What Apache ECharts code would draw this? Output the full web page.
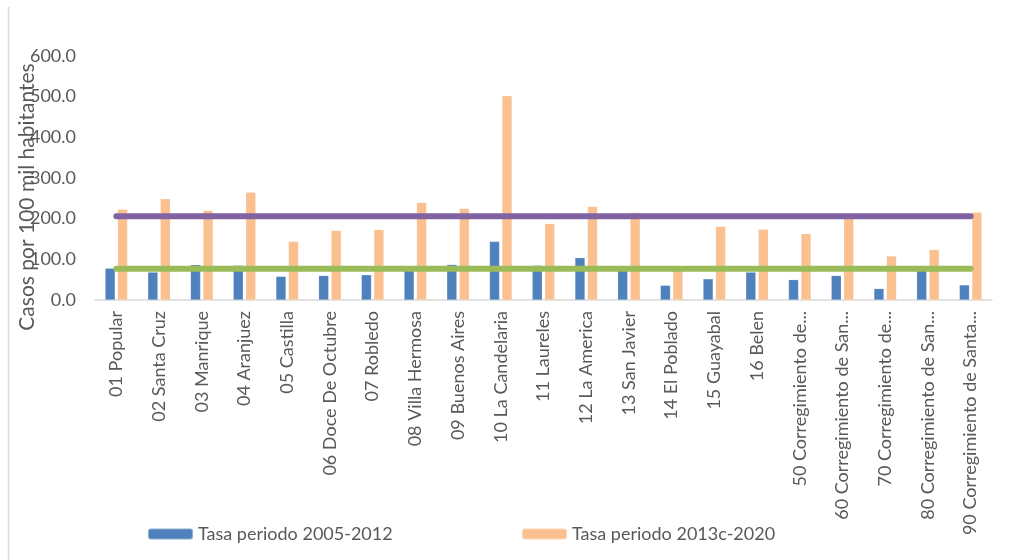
<!DOCTYPE html>
<html>
<head>
<meta charset="utf-8">
<script src="https://cdn.jsdelivr.net/npm/echarts@6/dist/echarts.min.js"></script>
<style>
html,body{margin:0;padding:0;background:#fff;}
#chart{width:1011px;height:560px;}
</style>
</head>
<body>
<div id="chart"></div>
<script>
var categories = [
  "01 Popular","02 Santa Cruz","03 Manrique","04 Aranjuez","05 Castilla",
  "06 Doce De Octubre","07 Robledo","08 Villa Hermosa","09 Buenos Aires","10 La Candelaria",
  "11 Laureles","12 La America","13 San Javier","14 El Poblado","15 Guayabal",
  "16 Belen","50 Corregimiento de...","60 Corregimiento de San...","70 Corregimiento de...","80 Corregimiento de San...",
  "90 Corregimiento de Santa..."
];
var tasa2005 = [78, 68.5, 86.7, 85, 58, 60, 62, 73, 87, 144, 85, 104, 73, 36, 52, 68.5, 50, 60, 28, 72, 37];
var tasa2013 = [223, 249, 220, 265, 144, 171, 173, 240, 225, 502, 188, 230, 215, 76, 181, 174, 163, 200, 108, 124, 216];
var promedio2013 = 206;
var promedio2005 = 77;
var yTicks = [0, 100, 200, 300, 400, 500, 600];

var linePurple = categories.map(function(){ return promedio2013; });
var lineGreen = categories.map(function(){ return promedio2005; });

var font = "Lato, 'Open Sans', sans-serif";
var gray = "#595959";

var chart = echarts.init(document.getElementById('chart'), null, {renderer:'canvas'});
chart.setOption({
  animation: false,
  backgroundColor: '#fff',
  graphic: [{
    type: 'line', shape: {x1: 8.5, y1: 7, x2: 8.5, y2: 560},
    style: {stroke: '#d9d9d9', lineWidth: 1.5}, silent: true
  }],
  legend: [{
    data: ['Tasa periodo 2005-2012'],
    left: 142, top: 520,
    itemWidth: 45, itemHeight: 11, itemGap: 5,
    textStyle: {color: gray, fontSize: 18, fontFamily: font}
  },{
    data: ['Tasa periodo 2013c-2020'],
    left: 516, top: 520,
    itemWidth: 45, itemHeight: 11, itemGap: 5,
    textStyle: {color: gray, fontSize: 18, fontFamily: font}
  }],
  grid: {left: 95, right: 19, top: 56, bottom: 260, containLabel: false, outerBoundsMode: 'none'},
  xAxis: {
    type: 'category',
    data: categories,
    axisLine: {show: true, lineStyle: {color: '#d9d9d9', width: 1.5}},
    axisTick: {show: false},
    axisLabel: {rotate: 90, interval: 0, margin: 11, color: gray, fontSize: 18, fontFamily: font}
  },
  yAxis: {
    type: 'value',
    min: yTicks[0], max: yTicks[yTicks.length-1], interval: 100,
    name: 'Casos por 100 mil habitantes',
    nameLocation: 'middle',
    nameGap: 57,
    nameMoveOverlap: false,
    nameTextStyle: {color: gray, fontSize: 21, fontFamily: font, padding: [0, 38, 0, 0]},
    axisLine: {show: false},
    axisTick: {show: false},
    splitLine: {show: false},
    axisLabel: {color: gray, fontSize: 18, fontFamily: font, margin: 19,
      formatter: function(v){ return v.toFixed(1); }}
  },
  series: [{
    name: 'Tasa periodo 2005-2012',
    type: 'bar',
    data: tasa2005,
    barWidth: 10,
    barGap: '25%',
    itemStyle: {color: '#4f81bd', borderColor: 'rgba(255,255,255,0.35)', borderWidth: 0.5}
  },{
    name: 'Tasa periodo 2013c-2020',
    type: 'bar',
    data: tasa2013,
    barWidth: 10,
    barGap: '25%',
    itemStyle: {color: '#fac090', borderColor: 'rgba(255,255,255,0.35)', borderWidth: 0.5}
  },{
    name: 'Promedio periodo 2013c-2020',
    type: 'line',
    data: linePurple,
    symbol: 'none',
    lineStyle: {color: '#8064a2', width: 6, cap: 'round'},
    z: 5
  },{
    name: 'Promedio periodo 2005-2012',
    type: 'line',
    data: lineGreen,
    symbol: 'none',
    lineStyle: {color: '#9bbb59', width: 6, cap: 'round'},
    z: 5
  }]
});
</script>
</body>
</html>
